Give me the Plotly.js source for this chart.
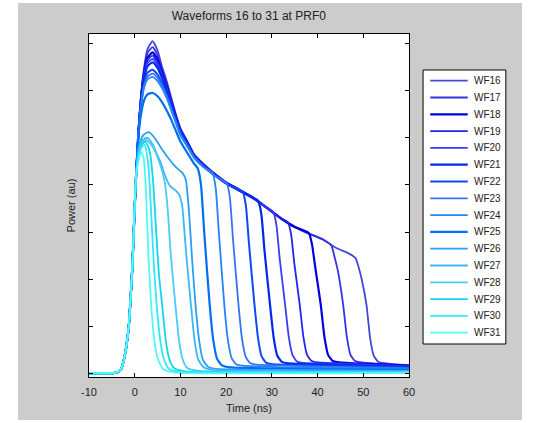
<!DOCTYPE html>
<html>
<head>
<meta charset="utf-8">
<script src="https://cdn.plot.ly/plotly-3.0.1.min.js"></script>
<style>
html,body{margin:0;padding:0;background:#ffffff;width:533px;height:423px;overflow:hidden;}
#fig{position:absolute;left:18px;top:3px;width:504px;height:417px;}
</style>
</head>
<body>
<div id="fig"></div>
<script>
// Shared rising edge
const riseT = [-10, -6, -4.2, -3.5, -3.0, -2.4, -1.8, -1.3, -0.9, -0.5, -0.1, 0.3];
const riseV = [0.01, 0.01, 0.02, 0.04, 0.09, 0.28, 0.6, 1.0, 1.6, 2.3, 3.3, 4.2];

const names = ["WF16","WF17","WF18","WF19","WF20","WF21","WF22","WF23","WF24","WF25","WF26","WF27","WF28","WF29","WF30","WF31"];

const wf16T = [0.8, 1.3, 2.0, 2.8, 3.9, 5.0, 6.0, 7.0, 8.0, 9.0, 10.0, 11.5, 13, 15, 17, 20, 23, 26, 29, 32, 35, 38, 41, 44, 47, 48.3, 49.0, 49.7, 50.7, 51.5, 52.3, 53.3, 55, 60];
const wf16V = [5.1, 5.8, 6.45, 6.88, 7.05, 6.85, 6.5, 6.2, 5.85, 5.5, 5.2, 4.93, 4.65, 4.45, 4.28, 4.06, 3.9, 3.73, 3.52, 3.3, 3.12, 2.98, 2.86, 2.67, 2.54, 2.45, 2.25, 1.98, 1.46, 0.75, 0.38, 0.25, 0.22, 0.18];

const wf17T = [0.8, 1.3, 2.0, 2.8, 3.9, 5.0, 6.0, 7.0, 8.0, 9.0, 10.0, 11.5, 13, 15, 17, 20, 23, 26, 29, 32, 35, 38, 41, 43.0, 43.7, 44.4, 45.6, 46.4, 47.2, 48.2, 49.6, 55, 60];
const wf17V = [5.1, 5.78, 6.4, 6.8, 6.92, 6.75, 6.43, 6.14, 5.8, 5.47, 5.18, 4.91, 4.64, 4.44, 4.27, 4.05, 3.89, 3.72, 3.51, 3.29, 3.11, 2.97, 2.85, 2.72, 2.48, 2.2, 1.46, 0.78, 0.4, 0.27, 0.24, 0.2, 0.17];

const wf18T = [0.8, 1.3, 2.0, 2.8, 3.9, 5.0, 6.0, 7.0, 8.0, 9.0, 10.0, 11.5, 13, 15, 17, 20, 23, 26, 29, 32, 35, 38.1, 38.8, 39.5, 40.7, 41.5, 42.3, 43.3, 44.7, 50, 60];
const wf18V = [5.1, 5.75, 6.35, 6.7, 6.81, 6.66, 6.38, 6.1, 5.77, 5.45, 5.16, 4.9, 4.63, 4.43, 4.27, 4.05, 3.89, 3.72, 3.51, 3.29, 3.11, 2.98, 2.73, 2.25, 1.46, 0.78, 0.4, 0.27, 0.24, 0.21, 0.17];

const wf19T = [0.8, 1.3, 2.0, 2.8, 3.9, 5.0, 6.0, 7.0, 8.0, 9.0, 10.0, 11.5, 13, 15, 17, 20, 23, 26, 29, 32, 33.5, 34.2, 34.9, 36.1, 36.9, 37.7, 38.7, 40.1, 50, 60];
const wf19V = [5.1, 5.74, 6.32, 6.65, 6.74, 6.6, 6.34, 6.07, 5.75, 5.43, 5.15, 4.89, 4.62, 4.42, 4.26, 4.05, 3.88, 3.71, 3.5, 3.29, 3.21, 2.96, 2.35, 1.46, 0.78, 0.4, 0.27, 0.24, 0.2, 0.16];

const wf20T = [0.8, 1.3, 2.0, 2.8, 3.9, 5.0, 6.0, 7.0, 8.0, 9.0, 10.0, 11.5, 13, 15, 17, 20, 23, 26, 28.5, 30.3, 31.0, 31.7, 32.9, 33.7, 34.5, 35.5, 36.9, 45, 60];
const wf20V = [5.1, 5.72, 6.28, 6.59, 6.67, 6.54, 6.3, 6.04, 5.73, 5.42, 5.14, 4.88, 4.62, 4.42, 4.26, 4.04, 3.88, 3.71, 3.55, 3.43, 3.15, 2.45, 1.46, 0.78, 0.4, 0.26, 0.23, 0.2, 0.15];

const wf21T = [0.8, 1.3, 2.0, 2.8, 3.9, 5.0, 6.0, 7.0, 8.0, 9.0, 10.0, 11.5, 13, 15, 17, 20, 23, 25, 27.0, 27.7, 28.4, 29.6, 30.4, 31.2, 32.2, 33.6, 45, 60];
const wf21V = [5.1, 5.7, 6.24, 6.52, 6.6, 6.48, 6.26, 6.0, 5.7, 5.4, 5.12, 4.87, 4.61, 4.41, 4.25, 4.04, 3.87, 3.78, 3.66, 3.38, 2.6, 1.46, 0.76, 0.38, 0.25, 0.22, 0.18, 0.14];

const wf22T = [0.8, 1.3, 2.0, 2.8, 3.9, 5.0, 6.0, 7.0, 8.0, 9.0, 10.0, 11.5, 13, 15, 17, 20, 22, 23.6, 24.3, 25.0, 26.2, 27.0, 27.8, 28.8, 30.2, 40, 60];
const wf22V = [5.05, 5.62, 6.12, 6.38, 6.44, 6.34, 6.15, 5.92, 5.64, 5.36, 5.09, 4.85, 4.6, 4.4, 4.24, 4.03, 3.93, 3.86, 3.58, 2.75, 1.46, 0.74, 0.36, 0.23, 0.2, 0.17, 0.13];

const wf23T = [0.8, 1.3, 2.0, 2.8, 3.9, 5.0, 6.0, 7.0, 8.0, 9.0, 10.0, 11.5, 13, 15, 17, 18.5, 20.1, 20.8, 21.5, 22.7, 23.5, 24.3, 25.3, 26.7, 40, 60];
const wf23V = [5.05, 5.6, 6.08, 6.3, 6.36, 6.27, 6.1, 5.88, 5.61, 5.34, 5.07, 4.83, 4.59, 4.39, 4.23, 4.14, 4.04, 3.75, 2.85, 1.46, 0.72, 0.35, 0.22, 0.19, 0.15, 0.12];

const wf24T = [0.8, 1.3, 2.0, 2.8, 3.9, 5.0, 6.0, 7.0, 8.0, 9.0, 10.0, 11.5, 13, 15, 17.0, 17.7, 18.4, 19.6, 20.4, 21.2, 22.2, 23.6, 35, 60];
const wf24V = [5.05, 5.58, 6.04, 6.24, 6.29, 6.2, 6.05, 5.84, 5.58, 5.31, 5.05, 4.81, 4.57, 4.38, 4.26, 3.95, 3.0, 1.46, 0.7, 0.33, 0.2, 0.17, 0.13, 0.1];

const wf25T = [0.8, 1.3, 2.0, 2.8, 3.9, 5.0, 6.0, 7.0, 8.0, 9.0, 10.0, 11.5, 13.0, 13.8, 14.5, 15.2, 16.4, 17.2, 18.0, 19.0, 20.4, 35, 60];
const wf25V = [5.0, 5.45, 5.78, 5.92, 5.95, 5.88, 5.75, 5.58, 5.38, 5.15, 4.92, 4.68, 4.45, 4.35, 4.0, 3.0, 1.46, 0.7, 0.32, 0.18, 0.14, 0.1, 0.08];

const wf26T = [0.8, 1.3, 2.0, 3.1, 4.5, 6.0, 7.5, 9.0, 10.5, 11.2, 11.9, 12.5, 13.3, 14.1, 14.9, 16.0, 18.0, 30, 60];
const wf26V = [4.75, 4.95, 5.07, 5.12, 4.98, 4.75, 4.55, 4.38, 4.25, 4.1, 3.4, 2.5, 1.46, 0.7, 0.3, 0.15, 0.1, 0.08, 0.06];

const wf27T = [0.8, 1.3, 2.0, 2.8, 4.0, 5.0, 5.6, 6.7, 7.8, 9.0, 9.8, 10.4, 10.8, 11.3, 12.3, 13.1, 13.9, 15.0, 17.0, 60];
const wf27V = [4.7, 4.88, 4.97, 5.0, 4.85, 4.62, 4.5, 4.18, 3.97, 3.88, 3.78, 3.55, 3.1, 2.5, 1.46, 0.7, 0.3, 0.14, 0.08, 0.05];

const wf28T = [0.8, 1.5, 2.6, 4.0, 5.5, 6.5, 7.2, 7.9, 8.9, 9.7, 10.5, 11.5, 14, 60];
const wf28V = [4.65, 4.88, 4.95, 4.8, 4.45, 4.1, 3.5, 2.5, 1.46, 0.7, 0.3, 0.12, 0.06, 0.04];

const wf29T = [0.8, 1.5, 2.4, 3.3, 4.0, 4.7, 5.3, 6.0, 6.8, 7.6, 8.6, 11, 60];
const wf29V = [4.6, 4.85, 4.92, 4.7, 4.1, 3.0, 2.1, 1.46, 0.7, 0.3, 0.12, 0.05, 0.03];

const wf30T = [0.8, 1.5, 2.2, 3.0, 3.6, 4.2, 4.8, 5.6, 6.4, 7.5, 10, 60];
const wf30V = [4.55, 4.8, 4.85, 4.4, 3.4, 2.3, 1.46, 0.7, 0.3, 0.1, 0.04, 0.02];

const wf31T = [0.8, 1.4, 2.0, 2.5, 3.0, 3.6, 4.3, 5.1, 6.2, 8.5, 60];
const wf31V = [4.5, 4.7, 4.55, 3.8, 2.5, 1.46, 0.7, 0.3, 0.1, 0.03, 0.02];

const seriesT = [wf16T, wf17T, wf18T, wf19T, wf20T, wf21T, wf22T, wf23T, wf24T, wf25T, wf26T, wf27T, wf28T, wf29T, wf30T, wf31T];
const seriesV = [wf16V, wf17V, wf18V, wf19V, wf20V, wf21V, wf22V, wf23V, wf24V, wf25V, wf26V, wf27V, wf28V, wf29V, wf30V, wf31V];

const xTicks = [-10, 0, 10, 20, 30, 40, 50, 60];

// styles (kept apart from data)
const colors = ["#4646d8","#3434e2","#0000e0","#2424ee","#3c3cf0","#0028f2","#1048f2","#3474f4","#2684f4","#0070f0","#28a0f4","#3cb8f8","#48ccf8","#14d4f2","#30e8f8","#50f8f8"];
const widths = [1.8,1.8,2.2,1.8,1.8,2.2,2.0,1.8,1.8,2.2,1.8,1.8,1.8,1.8,1.8,1.8];

const traces = names.map((n, i) => ({
  type: "scatter",
  mode: "lines",
  name: n,
  showlegend: false,
  x: riseT.concat(seriesT[i]),
  y: riseV.concat(seriesV[i]),
  line: {color: colors[i], width: widths[i], shape: "spline", smoothing: 0.5}
}));

// Manual legend (MATLAB-style compact box), positions in page pixels -> paper coords
const plotL = 88.5, plotR = 409.4, plotT = 34, plotB = 377;
const pxX = p => (p - plotL) / (plotR - plotL);
const pxY = p => (plotB - p) / (plotB - plotT);
const font = "Liberation Sans, Arial, sans-serif";

const shapes = [{type: "rect", xref: "paper", yref: "paper", x0: pxX(423.5), x1: pxX(506.5), y0: pxY(344), y1: pxY(70),
                 fillcolor: "#ffffff", line: {color: "#000000", width: 1}}];
const annotations = [];
names.forEach((n, i) => {
  const yy = 80.7 + 16.8 * i;
  shapes.push({type: "line", xref: "paper", yref: "paper", x0: pxX(430.7), x1: pxX(468.3), y0: pxY(yy), y1: pxY(yy),
               line: {color: colors[i], width: widths[i]}});
  annotations.push({xref: "paper", yref: "paper", x: pxX(472.5), y: pxY(yy), xanchor: "left", yanchor: "middle",
                    text: n, showarrow: false, font: {family: font, size: 10, color: "#222222"}});
});

const layout = {
  width: 504, height: 417,
  paper_bgcolor: "#cccccc",
  plot_bgcolor: "#ffffff",
  margin: {l: 70.5, r: 112.6, t: 31, b: 43},
  font: {family: font, size: 11, color: "#222222"},
  title: {text: "Waveforms 16 to 31 at PRF0", font: {family: font, size: 12, color: "#222222"}, x: 0.458, xanchor: "center", xref: "container", y: 0.969, yanchor: "middle", yref: "container"},
  showlegend: false,
  shapes: shapes,
  annotations: annotations,
  xaxis: {range: [-10, 60], tickvals: xTicks, ticktext: xTicks.map(String), ticks: "inside", ticklen: 4, tickcolor: "#000",
          showline: true, linecolor: "#000", linewidth: 1, mirror: "ticks", showgrid: false, zeroline: false,
          ticklabelstandoff: 5,
          tickfont: {family: font, size: 11, color: "#222222"},
          title: {text: "Time (ns)", font: {family: font, size: 11, color: "#222222"}, standoff: 7}},
  yaxis: {range: [-0.07, 7.2], tickmode: "linear", tick0: 0, dtick: 1, ticks: "inside", ticklen: 4, tickcolor: "#000",
          showticklabels: false, showline: true, linecolor: "#000", linewidth: 1, mirror: "ticks", showgrid: false, zeroline: false,
          title: {text: "Power (au)", font: {family: font, size: 11, color: "#222222"}, standoff: 10}}
};

Plotly.newPlot("fig", traces, layout, {displayModeBar: false, staticPlot: true});
</script>
</body>
</html>
